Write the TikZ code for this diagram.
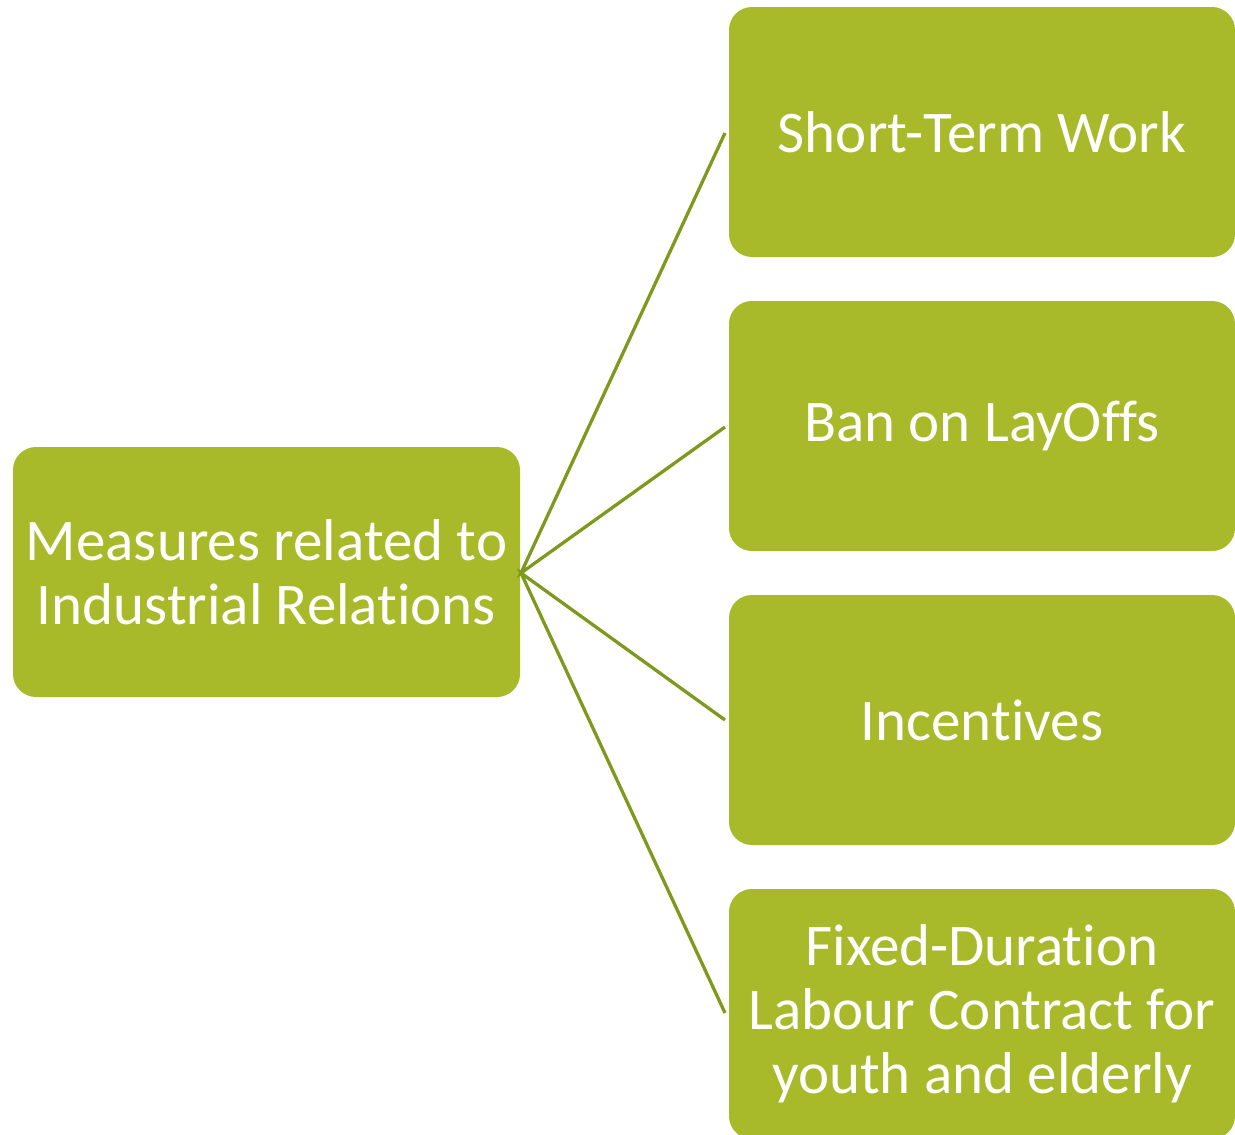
\documentclass[tikz,border=0pt]{standalone}
\usepackage{fontspec}
\setmainfont{Carlito}[Ligatures=NoCommon]
\definecolor{boxfill}{HTML}{A8B929}
\definecolor{linkcol}{HTML}{7E9A1E}
\tikzset{
  box/.style={fill=boxfill, draw=none, rounded corners=23pt, minimum width=507pt, minimum height=250pt,
    inner sep=0pt, text=white, align=center, font=\fontsize{59}{64}\selectfont},
  link/.style={draw=linkcol, line width=3.3pt}
}
\begin{document}
\begin{tikzpicture}[x=1pt,y=-1pt]
\useasboundingbox (0,0) rectangle (1235,1135);
\node[box] (root) at (266.5,572) {Measures related to\\Industrial Relations};
\node[box, minimum width=506pt] (a) at (982,132) {Short-Term Work};
\node[box, minimum width=506pt] (b) at (982,426) {Ban on LayOffs};
\node[box, minimum width=506pt] (c) at (982,720) {Incentives};
\node[box, minimum width=506pt] (d) at (982,1014) {Fixed-Duration\\Labour Contract for\\youth and elderly};
\coordinate (hub) at (521,573);
\coordinate (ea) at (725,133);
\coordinate (eb) at (725,427);
\coordinate (ec) at (725,720);
\coordinate (ed) at (725,1013);
\draw[link] (ea) -- (hub) -- (eb);
\draw[link] (ec) -- (hub) -- (ed);
\end{tikzpicture}
\end{document}
